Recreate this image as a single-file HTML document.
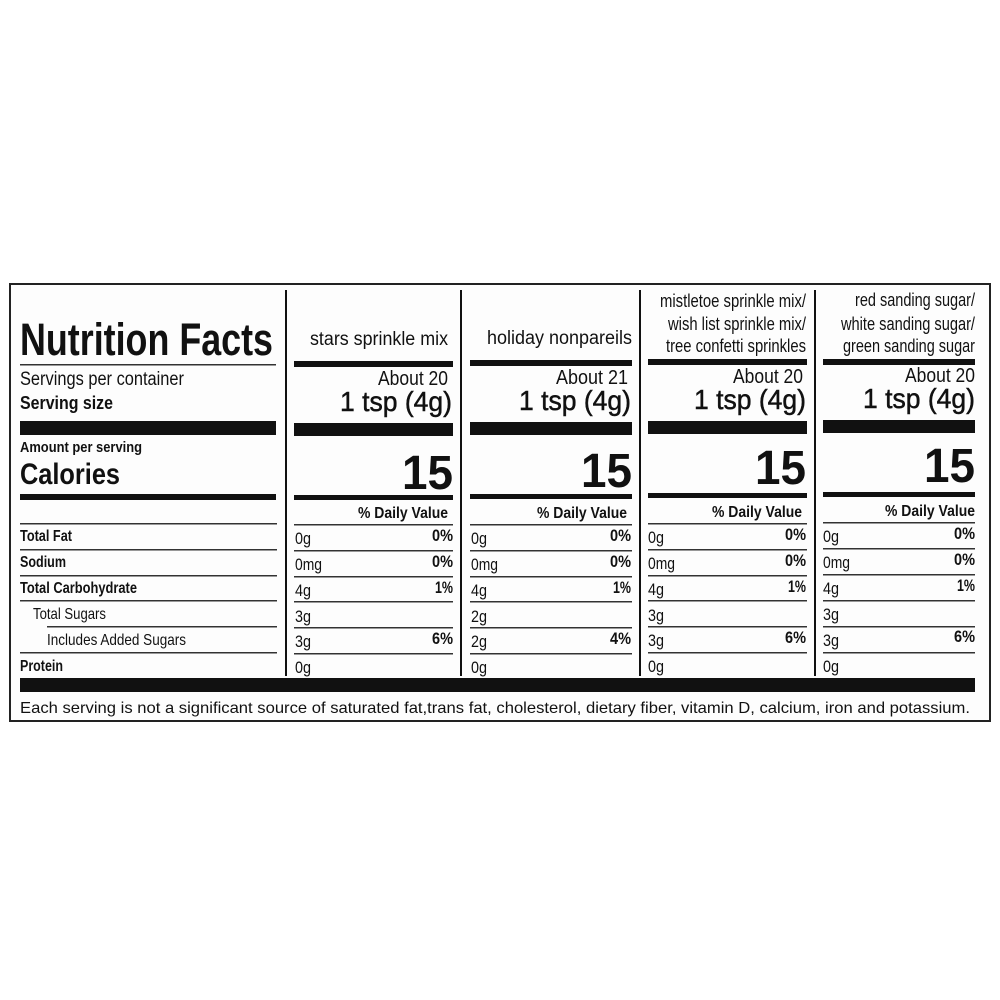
<!DOCTYPE html>
<html><head><meta charset="utf-8"><style>
html,body{margin:0;padding:0;background:#fff;}
svg{display:block;}
text{font-family:"Liberation Sans",Arial,sans-serif;fill:#111;}
.b{font-weight:bold;}
</style></head><body>
<svg width="1000" height="1000" viewBox="0 0 1000 1000" xmlns="http://www.w3.org/2000/svg">
<rect x="0" y="0" width="1000" height="1000" fill="#fff"/>
<rect x="10" y="284" width="980" height="437" fill="#fdfdfd" stroke="#222" stroke-width="2"/>
<g fill="#111">
<rect x="285" y="290" width="2" height="386"/>
<rect x="460" y="290" width="2" height="386"/>
<rect x="639" y="290" width="2" height="386"/>
<rect x="814" y="290" width="2" height="386"/>
</g>
<text x="20" y="355" class="b" font-size="45" textLength="253" lengthAdjust="spacingAndGlyphs">Nutrition Facts</text>
<rect x="20" y="364" width="256" height="1.5" fill="#333"/>
<text x="20" y="385" font-size="19" textLength="164" lengthAdjust="spacingAndGlyphs">Servings per container</text>
<text x="20" y="409" class="b" font-size="18" textLength="93" lengthAdjust="spacingAndGlyphs">Serving size</text>
<rect x="20" y="421" width="256" height="14" fill="#111"/>
<text x="20" y="452" class="b" font-size="15" textLength="122" lengthAdjust="spacingAndGlyphs">Amount per serving</text>
<text x="20" y="484" class="b" font-size="30" textLength="100" lengthAdjust="spacingAndGlyphs">Calories</text>
<rect x="20" y="494" width="256" height="6" fill="#111"/>
<g fill="#333">
<rect x="20" y="523" width="257" height="1.5"/>
<rect x="20" y="549" width="257" height="1.5"/>
<rect x="20" y="575" width="257" height="1.5"/>
<rect x="20" y="600" width="257" height="1.5"/>
<rect x="47" y="626" width="230" height="1.5"/>
<rect x="20" y="652" width="257" height="1.5"/>
</g>
<g font-size="16">
<text x="20" y="541" class="b" textLength="52" lengthAdjust="spacingAndGlyphs">Total Fat</text>
<text x="20" y="567" class="b" textLength="46" lengthAdjust="spacingAndGlyphs">Sodium</text>
<text x="20" y="593" class="b" textLength="117" lengthAdjust="spacingAndGlyphs">Total Carbohydrate</text>
<text x="33" y="619" textLength="73" lengthAdjust="spacingAndGlyphs">Total Sugars</text>
<text x="47" y="645" textLength="139" lengthAdjust="spacingAndGlyphs">Includes Added Sugars</text>
<text x="20" y="671" class="b" textLength="43" lengthAdjust="spacingAndGlyphs">Protein</text>
</g>
<rect x="20" y="678" width="955" height="14" fill="#111"/>
<text x="20" y="713" font-size="16" textLength="950" lengthAdjust="spacingAndGlyphs">Each serving is not a significant source of saturated fat,trans fat, cholesterol, dietary fiber, vitamin D, calcium, iron and potassium.</text>

<!-- column 1 -->
<g>
<text x="310" y="345" font-size="19" textLength="138" lengthAdjust="spacingAndGlyphs">stars sprinkle mix</text>
<rect x="294" y="361" width="159" height="6" fill="#111"/>
<text x="378" y="385" font-size="20" textLength="70" lengthAdjust="spacingAndGlyphs">About 20</text>
<text x="340" y="411" font-size="28" textLength="112" lengthAdjust="spacingAndGlyphs" stroke="#111" stroke-width="0.5">1 tsp (4g)</text>
<rect x="294" y="423" width="159" height="13" fill="#111"/>
<text x="453" y="489" class="b" font-size="48" text-anchor="end" textLength="51" lengthAdjust="spacingAndGlyphs">15</text>
<rect x="294" y="495" width="159" height="5" fill="#111"/>
<text x="358" y="518" class="b" font-size="16" textLength="90" lengthAdjust="spacingAndGlyphs">% Daily Value</text>
<g fill="#333"><rect x="294" y="524" width="159" height="1.5"/><rect x="294" y="550" width="159" height="1.5"/><rect x="294" y="576" width="159" height="1.5"/><rect x="294" y="601" width="159" height="1.5"/><rect x="294" y="627" width="159" height="1.5"/><rect x="294" y="653" width="159" height="1.5"/></g>
<g font-size="17"><text x="295" y="544" textLength="16" lengthAdjust="spacingAndGlyphs">0g</text><text x="295" y="570" textLength="27" lengthAdjust="spacingAndGlyphs">0mg</text><text x="295" y="596" textLength="16" lengthAdjust="spacingAndGlyphs">4g</text><text x="295" y="622" textLength="16" lengthAdjust="spacingAndGlyphs">3g</text><text x="295" y="647" textLength="16" lengthAdjust="spacingAndGlyphs">3g</text><text x="295" y="673" textLength="16" lengthAdjust="spacingAndGlyphs">0g</text></g>
<g font-size="17" class="b"><text x="432" y="541" textLength="21" lengthAdjust="spacingAndGlyphs">0%</text><text x="432" y="567" textLength="21" lengthAdjust="spacingAndGlyphs">0%</text><text x="435" y="593" textLength="18" lengthAdjust="spacingAndGlyphs">1%</text><text x="432" y="644" textLength="21" lengthAdjust="spacingAndGlyphs">6%</text></g>
</g>

<!-- column 2 -->
<g>
<text x="487" y="344" font-size="19" textLength="145" lengthAdjust="spacingAndGlyphs">holiday nonpareils</text>
<rect x="470" y="360" width="162" height="6" fill="#111"/>
<text x="556" y="384" font-size="20" textLength="72" lengthAdjust="spacingAndGlyphs">About 21</text>
<text x="519" y="410" font-size="28" textLength="112" lengthAdjust="spacingAndGlyphs" stroke="#111" stroke-width="0.5">1 tsp (4g)</text>
<rect x="470" y="422" width="162" height="13" fill="#111"/>
<text x="632" y="487" class="b" font-size="48" text-anchor="end" textLength="51" lengthAdjust="spacingAndGlyphs">15</text>
<rect x="470" y="494" width="162" height="5" fill="#111"/>
<text x="537" y="518" class="b" font-size="16" textLength="90" lengthAdjust="spacingAndGlyphs">% Daily Value</text>
<g fill="#333"><rect x="470" y="524" width="162" height="1.5"/><rect x="470" y="550" width="162" height="1.5"/><rect x="470" y="576" width="162" height="1.5"/><rect x="470" y="601" width="162" height="1.5"/><rect x="470" y="627" width="162" height="1.5"/><rect x="470" y="653" width="162" height="1.5"/></g>
<g font-size="17"><text x="471" y="544" textLength="16" lengthAdjust="spacingAndGlyphs">0g</text><text x="471" y="570" textLength="27" lengthAdjust="spacingAndGlyphs">0mg</text><text x="471" y="596" textLength="16" lengthAdjust="spacingAndGlyphs">4g</text><text x="471" y="622" textLength="16" lengthAdjust="spacingAndGlyphs">2g</text><text x="471" y="647" textLength="16" lengthAdjust="spacingAndGlyphs">2g</text><text x="471" y="673" textLength="16" lengthAdjust="spacingAndGlyphs">0g</text></g>
<g font-size="17" class="b"><text x="610" y="541" textLength="21" lengthAdjust="spacingAndGlyphs">0%</text><text x="610" y="567" textLength="21" lengthAdjust="spacingAndGlyphs">0%</text><text x="613" y="593" textLength="18" lengthAdjust="spacingAndGlyphs">1%</text><text x="610" y="644" textLength="21" lengthAdjust="spacingAndGlyphs">4%</text></g>
</g>

<!-- column 3 -->
<g>
<g font-size="18"><text x="660" y="307" textLength="146" lengthAdjust="spacingAndGlyphs">mistletoe sprinkle mix/</text><text x="668" y="330" textLength="138" lengthAdjust="spacingAndGlyphs">wish list sprinkle mix/</text><text x="666" y="352" textLength="140" lengthAdjust="spacingAndGlyphs">tree confetti sprinkles</text></g>
<rect x="648" y="359" width="159" height="6" fill="#111"/>
<text x="733" y="383" font-size="20" textLength="70" lengthAdjust="spacingAndGlyphs">About 20</text>
<text x="694" y="409" font-size="28" textLength="112" lengthAdjust="spacingAndGlyphs" stroke="#111" stroke-width="0.5">1 tsp (4g)</text>
<rect x="648" y="421" width="159" height="13" fill="#111"/>
<text x="806" y="484" class="b" font-size="48" text-anchor="end" textLength="51" lengthAdjust="spacingAndGlyphs">15</text>
<rect x="648" y="493" width="159" height="5" fill="#111"/>
<text x="712" y="517" class="b" font-size="16" textLength="90" lengthAdjust="spacingAndGlyphs">% Daily Value</text>
<g fill="#333"><rect x="648" y="523" width="159" height="1.5"/><rect x="648" y="549" width="159" height="1.5"/><rect x="648" y="575" width="159" height="1.5"/><rect x="648" y="600" width="159" height="1.5"/><rect x="648" y="626" width="159" height="1.5"/><rect x="648" y="652" width="159" height="1.5"/></g>
<g font-size="17"><text x="648" y="543" textLength="16" lengthAdjust="spacingAndGlyphs">0g</text><text x="648" y="569" textLength="27" lengthAdjust="spacingAndGlyphs">0mg</text><text x="648" y="595" textLength="16" lengthAdjust="spacingAndGlyphs">4g</text><text x="648" y="621" textLength="16" lengthAdjust="spacingAndGlyphs">3g</text><text x="648" y="646" textLength="16" lengthAdjust="spacingAndGlyphs">3g</text><text x="648" y="672" textLength="16" lengthAdjust="spacingAndGlyphs">0g</text></g>
<g font-size="17" class="b"><text x="785" y="540" textLength="21" lengthAdjust="spacingAndGlyphs">0%</text><text x="785" y="566" textLength="21" lengthAdjust="spacingAndGlyphs">0%</text><text x="788" y="592" textLength="18" lengthAdjust="spacingAndGlyphs">1%</text><text x="785" y="643" textLength="21" lengthAdjust="spacingAndGlyphs">6%</text></g>
</g>

<!-- column 4 -->
<g>
<g font-size="18"><text x="855" y="306" textLength="120" lengthAdjust="spacingAndGlyphs">red sanding sugar/</text><text x="841" y="330" textLength="134" lengthAdjust="spacingAndGlyphs">white sanding sugar/</text><text x="843" y="352" textLength="132" lengthAdjust="spacingAndGlyphs">green sanding sugar</text></g>
<rect x="823" y="359" width="152" height="6" fill="#111"/>
<text x="905" y="382" font-size="20" textLength="70" lengthAdjust="spacingAndGlyphs">About 20</text>
<text x="863" y="408" font-size="28" textLength="112" lengthAdjust="spacingAndGlyphs" stroke="#111" stroke-width="0.5">1 tsp (4g)</text>
<rect x="823" y="420" width="152" height="13" fill="#111"/>
<text x="975" y="482" class="b" font-size="48" text-anchor="end" textLength="51" lengthAdjust="spacingAndGlyphs">15</text>
<rect x="823" y="492" width="152" height="5" fill="#111"/>
<text x="885" y="516" class="b" font-size="16" textLength="90" lengthAdjust="spacingAndGlyphs">% Daily Value</text>
<g fill="#333"><rect x="823" y="522" width="152" height="1.5"/><rect x="823" y="548" width="152" height="1.5"/><rect x="823" y="574" width="152" height="1.5"/><rect x="823" y="600" width="152" height="1.5"/><rect x="823" y="626" width="152" height="1.5"/><rect x="823" y="652" width="152" height="1.5"/></g>
<g font-size="17"><text x="823" y="542" textLength="16" lengthAdjust="spacingAndGlyphs">0g</text><text x="823" y="568" textLength="27" lengthAdjust="spacingAndGlyphs">0mg</text><text x="823" y="594" textLength="16" lengthAdjust="spacingAndGlyphs">4g</text><text x="823" y="620" textLength="16" lengthAdjust="spacingAndGlyphs">3g</text><text x="823" y="646" textLength="16" lengthAdjust="spacingAndGlyphs">3g</text><text x="823" y="672" textLength="16" lengthAdjust="spacingAndGlyphs">0g</text></g>
<g font-size="17" class="b"><text x="954" y="539" textLength="21" lengthAdjust="spacingAndGlyphs">0%</text><text x="954" y="565" textLength="21" lengthAdjust="spacingAndGlyphs">0%</text><text x="957" y="591" textLength="18" lengthAdjust="spacingAndGlyphs">1%</text><text x="954" y="642" textLength="21" lengthAdjust="spacingAndGlyphs">6%</text></g>
</g>
</svg>
</body></html>
